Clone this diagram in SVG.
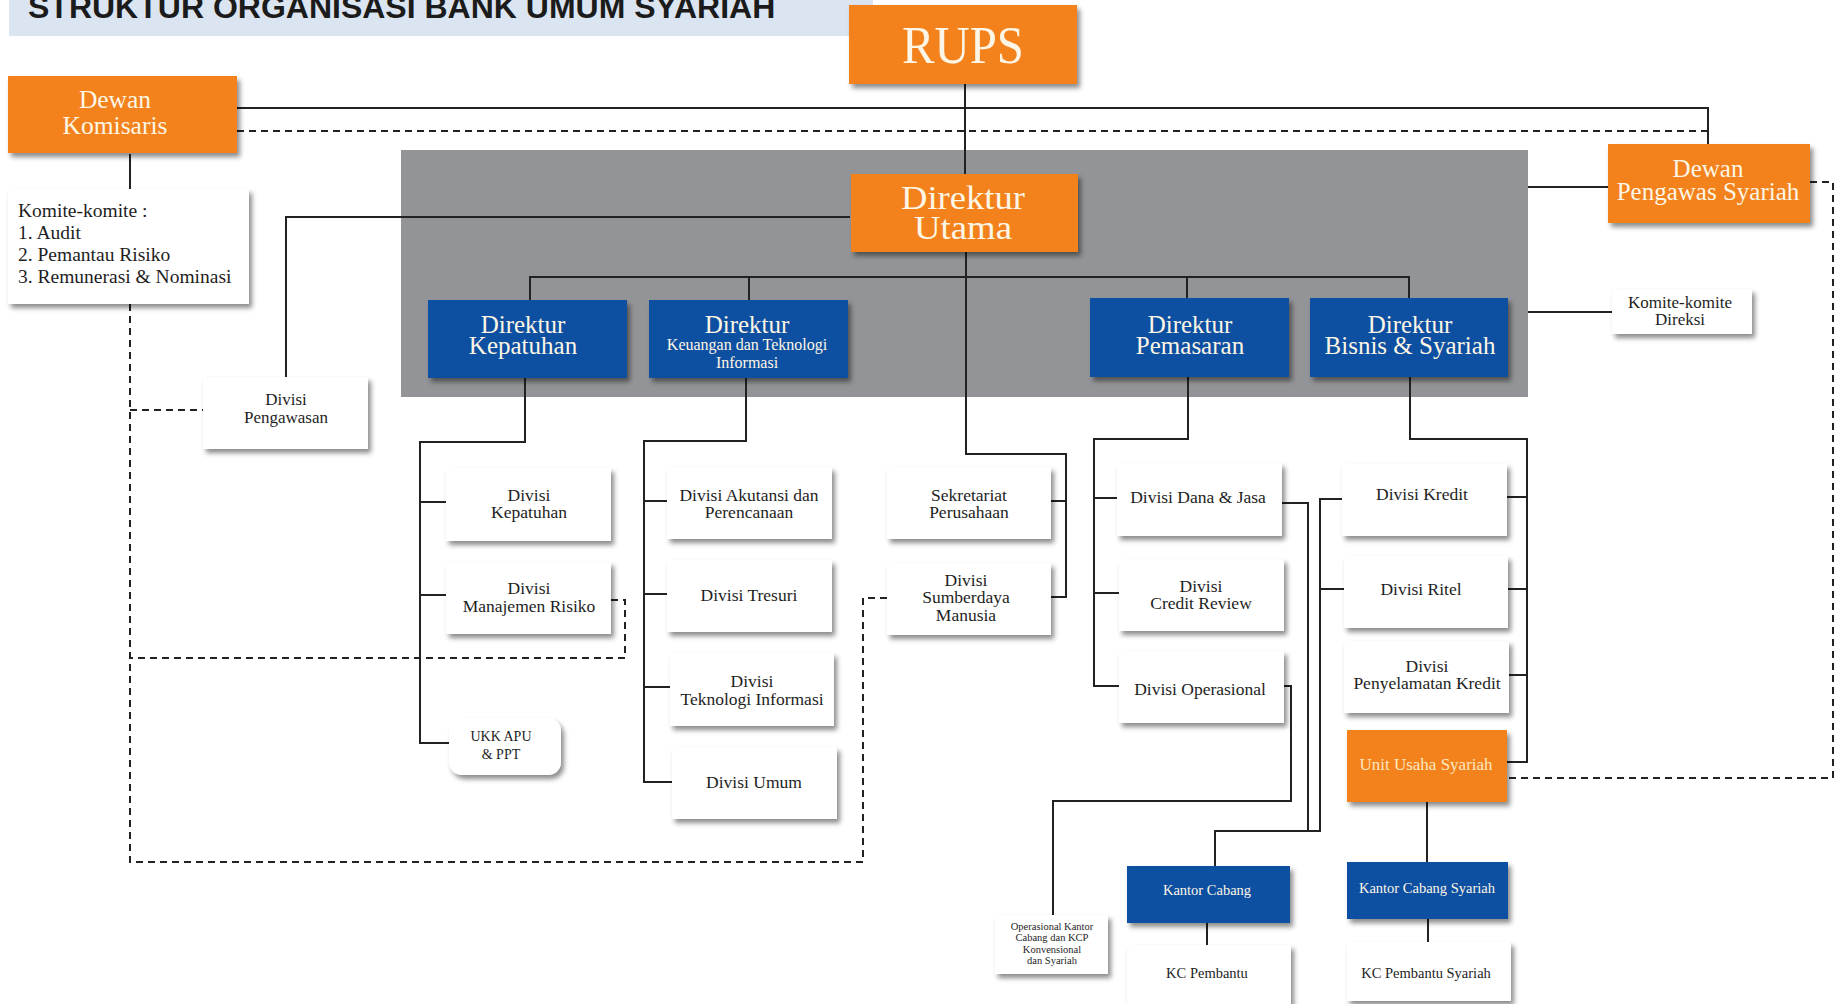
<svg xmlns="http://www.w3.org/2000/svg" width="1841" height="1004" viewBox="0 0 1841 1004">
<defs>
<filter id="sh" x="-10%" y="-15%" width="125%" height="140%"><feDropShadow dx="3" dy="4" stdDeviation="2.5" flood-color="#000" flood-opacity="0.45"/></filter>
<style>
.or{fill:#f3821f;filter:url(#sh)}
.bl{fill:#0d4fa1;filter:url(#sh)}
.wh{fill:#ffffff;filter:url(#sh)}
text{font-family:"Liberation Serif","Times New Roman",serif;text-anchor:middle}
.lt{fill:#fdf6e6}
.dk{fill:#1e1e1e}
.ln{fill:none;stroke:#222;stroke-width:2}
.ds{fill:none;stroke:#222;stroke-width:2;stroke-dasharray:7 5}
</style>
</defs>
<rect width="1841" height="1004" fill="#ffffff"/>
<g id="title">
<rect x="9" y="0" width="864" height="36" fill="#dbe5f1"/>
<text x="28" y="18" style="font-family:'Liberation Sans',Arial,sans-serif;font-weight:bold;font-size:32px;text-anchor:start" fill="#1b1b1b">STRUKTUR ORGANISASI BANK UMUM SYARIAH</text>
</g>
<g id="panel"><rect x="401" y="150" width="1127" height="247" fill="#929497"/></g>
<g id="connectors">
<path class="ln" d="M235,108 H1708 V144"/>
<path class="ln" d="M965,84 V174"/>
<path class="ln" d="M130,154 V189"/>
<path class="ln" d="M850,217 H286 V377"/>
<path class="ln" d="M966,252 V454 H1066 V597 H1051 M1051,501 H1066"/>
<path class="ln" d="M530,300 V277 H1409 V298 M749,277 V300 M1187,277 V298"/>
<path class="ln" d="M1528,187 H1608 M1528,312 H1612"/>
<path class="ln" d="M525,378 V442 H420 V743 H449 M420,502 H446 M420,595 H446"/>
<path class="ln" d="M746,378 V441 H644 V782 H672 M644,501 H667 M644,594 H667 M644,687 H670"/>
<path class="ln" d="M1188,377 V439 H1094 V686 H1119 M1094,498 H1117 M1094,593 H1119"/>
<path class="ln" d="M1410,377 V439 H1527 V762 H1507 M1507,497 H1527 M1508,589 H1527 M1509,675 H1527"/>
<path class="ln" d="M1282,503 H1308 V831 M1342,499 H1320 V831 H1215 V866 M1344,589 H1320"/>
<path class="ln" d="M1284,686 H1291 V801 H1053 V915"/>
<path class="ln" d="M1427,802 V862 M1207,923 V945 M1428,919 V942"/>
<path class="ds" d="M237,131 H1708"/>
<path class="ds" d="M130,304 V862 H863 V598 H887"/>
<path class="ds" d="M130,410 H203"/>
<path class="ds" d="M611,600 H625 V658 H130"/>
<path class="ds" d="M1810,182 H1833 V778 H1507"/>
</g>
<g id="rups"><rect class="or" x="849" y="5" width="228" height="79"/><text class="lt" x="963" y="63" style="font-size:52px" textLength="122" lengthAdjust="spacingAndGlyphs">RUPS</text></g>
<g id="dewan-komisaris"><rect class="or" x="8" y="76" width="229" height="77"/><text class="lt" style="font-size:25.5px"><tspan x="115" y="108">Dewan</tspan><tspan x="115" y="134">Komisaris</tspan></text></g>
<g id="komite-komite"><rect class="wh" x="8" y="189" width="241" height="115"/><text class="dk" style="font-size:19.5px;text-anchor:start"><tspan x="18" y="217">Komite-komite :</tspan><tspan x="18" y="239">1. Audit</tspan><tspan x="18" y="261">2. Pemantau Risiko</tspan><tspan x="18" y="283">3. Remunerasi &amp; Nominasi</tspan></text></g>
<g id="divisi-pengawasan"><rect class="wh" x="203" y="377" width="165" height="72"/><text class="dk" style="font-size:17px"><tspan x="286" y="405">Divisi</tspan><tspan x="286" y="423">Pengawasan</tspan></text></g>
<g id="direktur-utama"><rect class="or" x="851" y="174" width="227" height="78"/><text class="lt" style="font-size:33px"><tspan x="963" y="209" textLength="124" lengthAdjust="spacingAndGlyphs">Direktur</tspan><tspan x="963" y="239" textLength="98" lengthAdjust="spacingAndGlyphs">Utama</tspan></text></g>
<g id="dewan-pengawas-syariah"><rect class="or" x="1608" y="144" width="202" height="79"/><text class="lt" style="font-size:25px"><tspan x="1708" y="177">Dewan</tspan><tspan x="1708" y="200">Pengawas Syariah</tspan></text></g>
<g id="komite-direksi"><rect class="wh" x="1612" y="289" width="140" height="45"/><text class="dk" style="font-size:17px"><tspan x="1680" y="308">Komite-komite</tspan><tspan x="1680" y="325">Direksi</tspan></text></g>
<g id="dir-kepatuhan"><rect class="bl" x="428" y="300" width="199" height="78"/><text class="lt" style="font-size:25px"><tspan x="523" y="333">Direktur</tspan><tspan x="523" y="354">Kepatuhan</tspan></text></g>
<g id="dir-keuangan"><rect class="bl" x="649" y="300" width="199" height="78"/><text class="lt"><tspan x="747" y="333" style="font-size:25px">Direktur</tspan><tspan x="747" y="350" style="font-size:16px">Keuangan dan Teknologi</tspan><tspan x="747" y="368" style="font-size:16px">Informasi</tspan></text></g>
<g id="dir-pemasaran"><rect class="bl" x="1090" y="298" width="199" height="79"/><text class="lt" style="font-size:25px"><tspan x="1190" y="333">Direktur</tspan><tspan x="1190" y="354">Pemasaran</tspan></text></g>
<g id="dir-bisnis"><rect class="bl" x="1310" y="298" width="198" height="79"/><text class="lt" style="font-size:25px"><tspan x="1410" y="333">Direktur</tspan><tspan x="1410" y="354">Bisnis &amp; Syariah</tspan></text></g>
<g id="div-kepatuhan"><rect class="wh" x="446" y="468" width="165" height="73"/><text class="dk" style="font-size:17.5px"><tspan x="529" y="501">Divisi</tspan><tspan x="529" y="518">Kepatuhan</tspan></text></g>
<g id="div-risiko"><rect class="wh" x="446" y="562" width="165" height="72"/><text class="dk" style="font-size:17.5px"><tspan x="529" y="594">Divisi</tspan><tspan x="529" y="612">Manajemen Risiko</tspan></text></g>
<g id="ukk-apu"><rect class="wh" x="449" y="718" width="112" height="57" rx="13"/><text class="dk" style="font-size:14px"><tspan x="501" y="741">UKK APU</tspan><tspan x="501" y="759">&amp; PPT</tspan></text></g>
<g id="div-akutansi"><rect class="wh" x="667" y="467" width="165" height="72"/><text class="dk" style="font-size:17.5px"><tspan x="749" y="501">Divisi Akutansi dan</tspan><tspan x="749" y="518">Perencanaan</tspan></text></g>
<g id="div-tresuri"><rect class="wh" x="667" y="560" width="165" height="72"/><text class="dk" x="749" y="601" style="font-size:17.5px">Divisi Tresuri</text></g>
<g id="div-ti"><rect class="wh" x="670" y="653" width="164" height="73"/><text class="dk" style="font-size:17.5px"><tspan x="752" y="687">Divisi</tspan><tspan x="752" y="705">Teknologi Informasi</tspan></text></g>
<g id="div-umum"><rect class="wh" x="672" y="747" width="165" height="72"/><text class="dk" x="754" y="788" style="font-size:17.5px">Divisi Umum</text></g>
<g id="sekretariat"><rect class="wh" x="887" y="467" width="164" height="72"/><text class="dk" style="font-size:17.5px"><tspan x="969" y="501">Sekretariat</tspan><tspan x="969" y="518">Perusahaan</tspan></text></g>
<g id="div-sdm"><rect class="wh" x="887" y="563" width="164" height="72"/><text class="dk" style="font-size:17.5px"><tspan x="966" y="586">Divisi</tspan><tspan x="966" y="603">Sumberdaya</tspan><tspan x="966" y="621">Manusia</tspan></text></g>
<g id="div-dana"><rect class="wh" x="1117" y="463" width="165" height="73"/><text class="dk" x="1198" y="503" style="font-size:17.5px">Divisi Dana &amp; Jasa</text></g>
<g id="div-credit-review"><rect class="wh" x="1119" y="559" width="165" height="72"/><text class="dk" style="font-size:17.5px"><tspan x="1201" y="592">Divisi</tspan><tspan x="1201" y="609">Credit Review</tspan></text></g>
<g id="div-operasional"><rect class="wh" x="1119" y="651" width="165" height="72"/><text class="dk" x="1200" y="695" style="font-size:17.5px">Divisi Operasional</text></g>
<g id="div-kredit"><rect class="wh" x="1342" y="464" width="165" height="72"/><text class="dk" x="1422" y="500" style="font-size:17.5px">Divisi Kredit</text></g>
<g id="div-ritel"><rect class="wh" x="1344" y="556" width="164" height="72"/><text class="dk" x="1421" y="595" style="font-size:17.5px">Divisi Ritel</text></g>
<g id="div-penyelamatan"><rect class="wh" x="1344" y="641" width="165" height="72"/><text class="dk" style="font-size:17.5px"><tspan x="1427" y="672">Divisi</tspan><tspan x="1427" y="689">Penyelamatan Kredit</tspan></text></g>
<g id="unit-usaha-syariah"><rect class="or" x="1347" y="730" width="160" height="72"/><text x="1426" y="770" style="font-size:17px" fill="#fce7c0">Unit Usaha Syariah</text></g>
<g id="kantor-cabang"><rect class="bl" x="1127" y="866" width="163" height="57"/><text class="lt" x="1207" y="895" style="font-size:14.5px">Kantor Cabang</text></g>
<g id="kantor-cabang-syariah"><rect class="bl" x="1347" y="862" width="161" height="57"/><text class="lt" x="1427" y="893" style="font-size:14.5px">Kantor Cabang Syariah</text></g>
<g id="kc-pembantu"><rect class="wh" x="1127" y="945" width="164" height="64"/><text class="dk" x="1207" y="978" style="font-size:14.5px">KC Pembantu</text></g>
<g id="kc-pembantu-syariah"><rect class="wh" x="1347" y="942" width="164" height="59"/><text class="dk" x="1426" y="978" style="font-size:14.5px">KC Pembantu Syariah</text></g>
<g id="operasional-kantor"><rect class="wh" x="995" y="915" width="113" height="59"/><text class="dk" style="font-size:10.5px"><tspan x="1052" y="930">Operasional Kantor</tspan><tspan x="1052" y="941">Cabang dan KCP</tspan><tspan x="1052" y="953">Konvensional</tspan><tspan x="1052" y="964">dan Syariah</tspan></text></g>
</svg>
